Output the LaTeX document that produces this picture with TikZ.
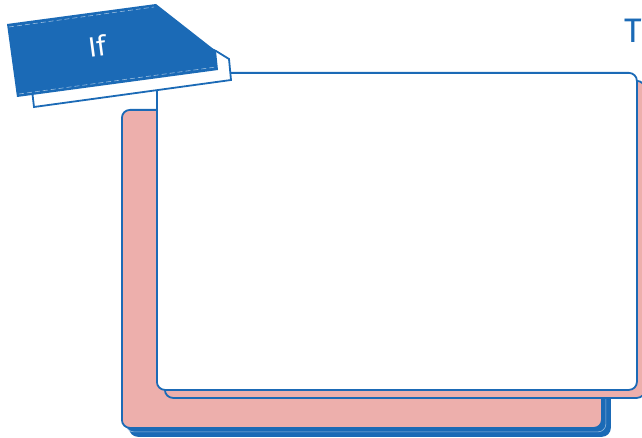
\documentclass[tikz,border=0pt]{standalone}
\usepackage{fontspec}
\setmainfont{Fira Sans}
\usepackage{tikz}
\usetikzlibrary{shadows}

\definecolor{tagblue}{RGB}{27,106,182}
\definecolor{cardpink}{RGB}{237,175,172}

\begin{document}
\begin{tikzpicture}[
    x=1pt, y=-1pt,
    panel/.style={draw=tagblue, line width=1.8pt, rounded corners=8pt, anchor=north west,
      minimum width=480pt, inner sep=0pt},
    stitch/.style={draw=tagblue!45!white, line width=0.6pt, dash pattern=on 5pt off 3pt}
  ]
  \useasboundingbox (0,0) rectangle (642,438);

  % back card with blue shadow
  \node[panel, fill=cardpink, minimum height=318pt,
    copy shadow={shadow xshift=8pt, shadow yshift=-8pt, fill=tagblue, draw=tagblue},
    copy shadow={shadow xshift=4pt, shadow yshift=-4pt, fill=tagblue, draw=tagblue!45!white, line width=0.6pt}]
    (back) at (121,109) {};

  % front card with pink shadow
  \node[panel, fill=white, minimum height=317pt,
    copy shadow={shadow xshift=8pt, shadow yshift=-8pt, fill=cardpink, draw=tagblue}]
    (front) at (156,72) {};

  % tag
  \coordinate (ta) at (7,24);
  \coordinate (tb) at (156,4);
  \coordinate (tc) at (216,51);
  \coordinate (td) at (218,70);
  \coordinate (te) at (17,97);
  \draw[tagblue, line width=1.8pt, fill=white, line join=miter]
    (150,22) -- (tc) -- (229,59) -- (231,80) -- (34,107) -- (32,90) -- cycle;
  \fill[tagblue] (ta) -- (tb) -- (tc) -- (td) -- (te) -- cycle;
  \draw[stitch] ([shift={(2,3)}]ta) -- ([shift={(-2,3)}]tb);
  \draw[stitch] ([shift={(2,-3)}]te) -- ([shift={(-2,-3)}]td);

  \node[text=white, rotate=7.6, font=\fontsize{28}{30}\selectfont] (iflabel) at (97,46) {If};
  \node[text=tagblue, anchor=base west, inner sep=0pt, font=\fontsize{34}{36}\selectfont] (title) at (624,43) {T};
\end{tikzpicture}
\end{document}
